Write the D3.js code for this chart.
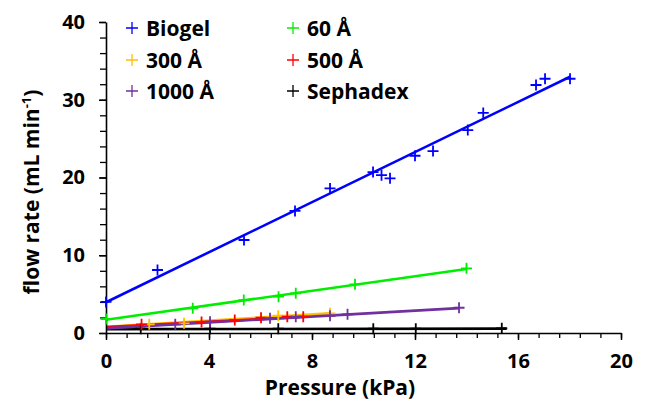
<!DOCTYPE html>
<html><head><meta charset="utf-8">
<script src="https://cdn.jsdelivr.net/npm/d3@7"></script>
<style>body{margin:0;background:#fff}svg{display:block}text{font-family:"Open Sans",sans-serif;font-weight:bold}</style>
</head><body><svg id="c" width="646" height="402"></svg>
<script>
// series names and colours
const seriesNames = ["Biogel","60 Å","300 Å","500 Å","1000 Å","Sephadex"];
const seriesColors = ["#0000ff","#00ee00","#ffc000","#ff0000","#7030a0","#000000"];
// measured points (pressure kPa, flow mL/min)
const biogelP = [0,2.0,5.36,7.34,8.7,10.37,10.7,11.03,12.0,12.7,14.05,14.65,16.7,17.05,18.02];
const biogelF = [4.0,8.1,11.96,15.7,18.6,20.7,20.3,19.9,22.8,23.4,26.1,28.3,31.9,32.7,32.7];
const a60P = [0,3.37,5.35,6.7,7.37,9.67,14.0];
const a60F = [1.8,3.18,4.24,4.67,5.1,6.26,8.32];
const a300P = [1.68,3.03,6.69,8.7];
const a300F = [1.12,1.25,2.22,2.53];
const a500P = [1.38,3.71,5.0,6.02,7.04,7.66];
const a500F = [1.12,1.41,1.67,1.97,2.1,2.1];
const a1000P = [2.69,4.04,6.37,7.37,8.7,9.38,13.71];
const a1000F = [1.12,1.45,1.89,2.1,2.22,2.4,3.25];
const sephP = [1.35,4.04,6.69,10.38,12.03,15.37];
const sephF = [0.55,0.55,0.55,0.55,0.55,0.6];
// linear fits: intercept, slope, end pressure
const fitIntercept = [3.95,1.7,0.8,0.75,0.6,0.5];
const fitSlope = [1.61,0.466,0.2,0.175,0.19,0.004];
const fitEnd = [18.02,14.0,8.7,7.7,13.71,15.56];
// axes
const xTicks = [0,4,8,12,16,20];
const yTicks = [0,10,20,30,40];
const xLabel = "Pressure (kPa)";

const allP=[biogelP,a60P,a300P,a500P,a1000P,sephP];
const allF=[biogelF,a60F,a300F,a500F,a1000F,sephF];

const svg=d3.select("#c");
const x=d3.scaleLinear().domain([0,20]).range([106,621]);
const y=d3.scaleLinear().domain([0,40]).range([333,22]);

// fit lines (drawn first, markers over)
const line=d3.line().x(d=>x(d[0])).y(d=>y(d[1]));
// draw order: sephadex, 1000, 500/300, 60, biogel
[5,2,3,4,1,0].forEach(i=>{
  const pts=[[0,fitIntercept[i]],[fitEnd[i],fitIntercept[i]+fitSlope[i]*fitEnd[i]]];
  svg.append("path").attr("d",line(pts)).attr("stroke",seriesColors[i]).attr("stroke-width",2.6).attr("fill","none");
});

// axes
const xMinor=d3.range(0,20.01,0.8);
const yMinor=d3.range(0,40.01,2);
const gx=svg.append("g").attr("transform","translate(0,333)");
gx.call(d3.axisBottom(x).tickValues(xMinor).tickSize(5).tickFormat(""));
gx.call(g=>g.selectAll(".tick line").attr("stroke","#000").attr("stroke-width",1.3));
const gx2=svg.append("g").attr("transform","translate(0,333)");
gx2.call(d3.axisBottom(x).tickValues(xTicks).tickSize(7).tickPadding(14).tickSizeOuter(0));
gx2.selectAll(".domain").attr("stroke","#000").attr("stroke-width",1.6);
gx2.selectAll(".tick line").attr("stroke","#000").attr("stroke-width",1.5);
gx2.selectAll("text").attr("font-size",20).attr("font-family","Open Sans").attr("font-weight","bold").attr("fill","#000");

const gy=svg.append("g").attr("transform","translate(106,0)");
gy.call(d3.axisLeft(y).tickValues(yMinor).tickSize(6).tickFormat(""));
gy.selectAll(".tick line").attr("stroke","#000").attr("stroke-width",1.3);
const gy2=svg.append("g").attr("transform","translate(106,0)");
gy2.call(d3.axisLeft(y).tickValues(yTicks).tickSize(7).tickPadding(14).tickSizeOuter(0));
gy2.selectAll(".domain").attr("stroke","#000").attr("stroke-width",1.6);
gy2.selectAll(".tick line").attr("stroke","#000").attr("stroke-width",1.5);
gy2.selectAll("text").attr("font-size",20).attr("font-family","Open Sans").attr("font-weight","bold").attr("fill","#000");
gx.selectAll(".domain").remove(); gy.selectAll(".domain").remove();

// markers
const arm=5.5;
function plus(g,cx,cy,a,col,w){
  g.append("path").attr("d",`M${cx-a},${cy}H${cx+a}M${cx},${cy-a}V${cy+a}`).attr("stroke",col).attr("stroke-width",w).attr("fill","none");
}
[5,2,3,4,1,0].forEach(i=>{
  const g=svg.append("g");
  allP[i].forEach((p,k)=>plus(g,x(p),y(allF[i][k]),arm,seriesColors[i],1.8));
});

// legend
const legX=[132,293], legY=[28,60,91];
const order=[[0,2,4],[1,3,5]];
order.forEach((col,ci)=>col.forEach((si,ri)=>{
  const g=svg.append("g");
  plus(g,legX[ci],legY[ri],6,seriesColors[si],1.3);
  g.append("text").attr("x",legX[ci]+14).attr("y",legY[ri]+7.5).attr("font-size",21).attr("fill","#000").text(seriesNames[si]);
}));

// axis titles
svg.append("text").attr("x",340).attr("y",395).attr("text-anchor","middle").attr("font-size",21).text(xLabel);
const yt=svg.append("text").attr("transform","translate(39,192) rotate(-90)").attr("text-anchor","middle").attr("font-size",21);
yt.append("tspan").text("flow rate (mL min");
yt.append("tspan").attr("dy",-8).attr("font-size",13).text("-1");
yt.append("tspan").attr("dy",8).text(")");
</script></body></html>
